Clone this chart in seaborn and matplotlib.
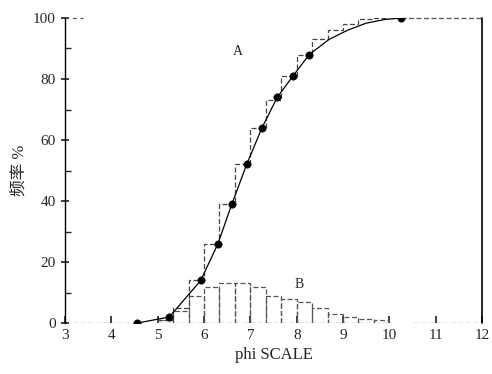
import numpy as np
import matplotlib
matplotlib.use("Agg")
import matplotlib.pyplot as plt
import seaborn as sns

# bin edges (phi) and frequency % per bin (curve B)
bin_edges = [5.0, 5.33, 5.67, 6.0, 6.33, 6.67, 7.0, 7.33, 7.67, 8.0,
             8.33, 8.67, 9.0, 9.33, 9.67, 10.0]
freq = [1, 4, 9, 12, 13, 13, 12, 9, 8, 7, 5, 3, 2, 1.5, 1]

# cumulative % at the right edge of each bin (stepped curve A)
cum_steps = [1, 5, 14, 26, 39, 52, 64, 73, 81, 88, 93, 96, 98, 99.5, 100]

# cumulative curve read along its path, and the dotted points on it
curve_x = [4.55, 5.25, 5.93, 6.3, 6.6, 6.92, 7.25, 7.58, 7.92, 8.27, 8.7, 9.1, 9.5, 9.9, 10.26]
curve_y = [0, 2, 14, 26, 39, 52, 64, 74, 81, 88, 93, 96, 98.3, 99.5, 100]
dot_x = [4.55, 5.25, 5.93, 6.3, 6.6, 6.92, 7.25, 7.58, 7.92, 8.27, 10.26]
dot_y = [0, 2, 14, 26, 39, 52, 64, 74, 81, 88, 100]

sns.set_theme(style="ticks")
plt.rcParams["font.family"] = ["Liberation Serif", "Noto Sans CJK SC"]

fig = plt.figure(figsize=(4.92, 3.74), dpi=100)
ax = fig.add_axes([0.132, 0.136, 0.848, 0.816])

# histogram B as open bars
centers = [(a + b) / 2 for a, b in zip(bin_edges[:-1], bin_edges[1:])]
sns.histplot(x=centers, weights=freq, bins=bin_edges, fill=False,
             element="bars", color="#555555", linewidth=0.9,
             linestyle=(0, (4, 2)), ax=ax)

# stepped cumulative A
ax.stairs(cum_steps, bin_edges, baseline=None, color="#444444",
          linewidth=0.9, linestyle=(0, (4, 2)))

# cumulative curve and dots
sns.lineplot(x=curve_x, y=curve_y, color="black", linewidth=0.9,
             sort=False, ax=ax)
sns.scatterplot(x=dot_x, y=dot_y, color="black", s=28, edgecolor="black",
                zorder=5, ax=ax)

# dashed baseline and top line
ax.plot([3, 4.55], [0, 0], color="#555555", lw=0.9, ls=(0, (4, 2)))
ax.plot([10.5, 12], [0, 0], color="#555555", lw=0.9, ls=(0, (4, 2)))
ax.plot([10.26, 12], [100, 100], color="#555555", lw=0.9, ls=(0, (4, 2)),
        clip_on=False)
ax.plot([3, 3.4], [100, 100], color="#555555", lw=0.9, ls=(0, (3, 3)),
        clip_on=False)
ax.plot([12, 12], [0, 100], color="black", lw=1.2, clip_on=False)

ax.text(6.74, 89, "A", fontsize=10, ha="center", va="center")
ax.text(8.05, 12.5, "B", fontsize=10, ha="center", va="center")

ax.set_xlim(3, 12)
ax.set_ylim(0, 100)
ax.set_xticks(range(3, 13))
ax.set_yticks([0, 20, 40, 60, 80, 100])
ax.set_yticks([10, 30, 50, 70, 90], minor=True)
ax.tick_params(axis="x", direction="in", length=5, labelsize=11, pad=4)
ax.tick_params(axis="y", direction="inout", length=6, labelsize=11)
ax.tick_params(axis="y", which="minor", direction="in", length=4)

for s in ["top", "right", "bottom"]:
    ax.spines[s].set_visible(False)
ax.spines["left"].set_linewidth(1.0)
ax.spines["left"].set_color("black")

ax.set_xlabel("phi SCALE", fontsize=12)
ax.set_ylabel("频率 %", fontsize=12)
ax.set_facecolor("white")

fig.savefig("out.png", dpi=100)
